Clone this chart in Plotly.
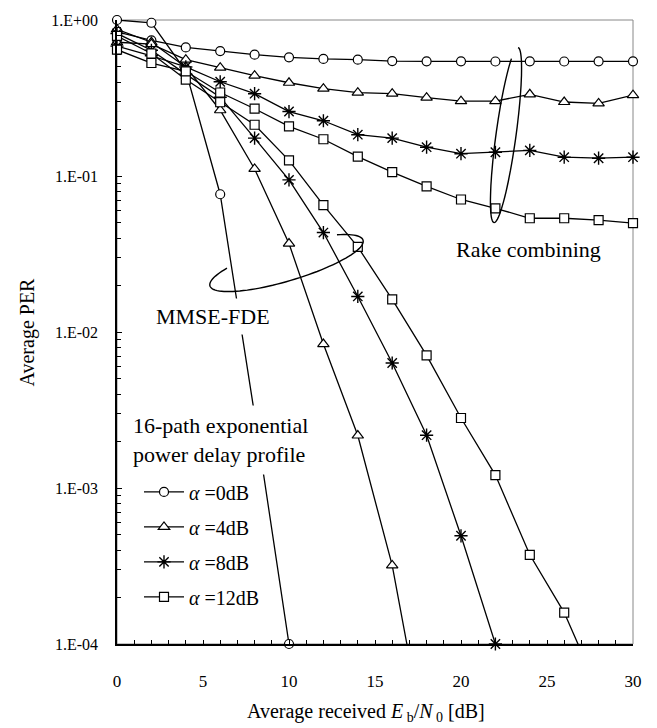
import numpy as np
import plotly.graph_objects as go

# ---------------- data ----------------
snr_rake = [0, 2, 4, 6, 8, 10, 12, 14, 16, 18, 20, 22, 24, 26, 28, 30]
rake_a0 = [0.84, 0.74, 0.667, 0.632, 0.599, 0.576, 0.563, 0.557, 0.545, 0.543, 0.543, 0.542, 0.543, 0.542, 0.543, 0.543]
rake_a4 = [0.72, 0.70, 0.557, 0.495, 0.440, 0.396, 0.363, 0.342, 0.337, 0.318, 0.302, 0.302, 0.334, 0.298, 0.292, 0.330]
rake_a8 = [0.68, 0.59, 0.50, 0.402, 0.337, 0.259, 0.226, 0.184, 0.175, 0.153, 0.139, 0.142, 0.146, 0.132, 0.130, 0.132]
rake_a12 = [0.645, 0.53, 0.469, 0.343, 0.270, 0.208, 0.172, 0.133, 0.106, 0.0859, 0.0707, 0.0621, 0.0536, 0.0536, 0.0522, 0.0499]

snr_mmse_a0 = [0, 2, 4, 6, 8, 10]
mmse_a0 = [1.0, 0.96, 0.47, 0.0764, 0.00295, 1.0e-4]
snr_mmse_a4 = [0, 2, 4, 6, 8, 10, 12, 14, 16, 18]
mmse_a4 = [0.87, 0.72, 0.50, 0.264, 0.111, 0.0369, 0.00837, 0.00217, 3.19e-4, 2.1e-5]
snr_mmse_a8 = [0, 2, 4, 6, 8, 10, 12, 14, 16, 18, 20, 22]
mmse_a8 = [0.82, 0.64, 0.45, 0.32, 0.175, 0.0945, 0.0434, 0.0169, 0.00633, 0.00218, 4.94e-4, 1.0e-4]
snr_mmse_a12 = [0, 2, 4, 6, 8, 10, 12, 14, 16, 18, 20, 22, 24, 26, 28]
mmse_a12 = [0.79, 0.61, 0.415, 0.297, 0.213, 0.126, 0.0651, 0.0351, 0.0162, 0.00708, 0.00281, 0.00121, 3.73e-4, 1.59e-4, 5.0e-5]

alpha_labels = ["0", "4", "8", "12"]
x_ticks = [0, 5, 10, 15, 20, 25, 30]
y_ticks = [1, 0.1, 0.01, 0.001, 0.0001]
y_ticktext = ["1.E+00", "1.E-01", "1.E-02", "1.E-03", "1.E-04"]

# ---------------- layout geometry ----------------
W, H = 657, 728
ML, MR, MT, MB = 117, 24, 15, 84
PW = W - ML - MR
PH = H - MT - MB
FONT = "Liberation Serif, Times New Roman, serif"


def pxx(x):
    return (x - ML) / PW


def pxy(y):
    return (H - MB - y) / PH


symbols = ["circle", "triangle-up", "asterisk-open", "square"]
msizes = [9, 10, 11, 9]

fig = go.Figure()

rake_sets = [rake_a0, rake_a4, rake_a8, rake_a12]
mmse_sets = [(snr_mmse_a0, mmse_a0), (snr_mmse_a4, mmse_a4),
             (snr_mmse_a8, mmse_a8), (snr_mmse_a12, mmse_a12)]

for i, a in enumerate(alpha_labels):
    open_sym = symbols[i].endswith("-open")
    mk = dict(symbol=symbols[i], size=msizes[i],
              color="black" if open_sym else "white",
              line=dict(color="black", width=1.4 if open_sym else 1.2))
    # MMSE-FDE curve
    xs, ys = mmse_sets[i]
    op = [1 if v >= 1e-4 else 0 for v in ys]
    mk2 = dict(mk)
    mk2["opacity"] = op
    fig.add_trace(go.Scatter(x=xs, y=ys, mode="lines+markers",
                             line=dict(color="black", width=1.3),
                             marker=mk2, cliponaxis=False, showlegend=False,
                             legendgroup="g" + a))
    # Rake curve
    fig.add_trace(go.Scatter(x=snr_rake, y=rake_sets[i], mode="lines+markers",
                             line=dict(color="black", width=1.3),
                             marker=mk, cliponaxis=False,
                             name="<i>α</i> =" + a + "dB",
                             legendgroup="g" + a, showlegend=True))


def ellipse_path(cx, cy, a, b, u, v, t0, t1, n=80):
    ts = np.radians(np.linspace(t0, t1, n))
    pts = []
    for t in ts:
        x = cx + a * np.cos(t) * u[0] + b * np.sin(t) * v[0]
        y = cy + a * np.cos(t) * u[1] + b * np.sin(t) * v[1]
        pts.append((pxx(x), pxy(y)))
    return "M " + " L ".join(f"{p[0]:.4f},{p[1]:.4f}" for p in pts)


shapes = [
    dict(type="rect", xref="paper", yref="paper", x0=0, x1=1, y0=0, y1=1,
         line=dict(color="#888888", width=1), layer="below"),
    dict(type="path", xref="paper", yref="paper",
         path=ellipse_path(506, 131, 89, 10, (0.135, -0.991), (0.991, 0.135), 0, 330),
         line=dict(color="black", width=1.4)),
    dict(type="path", xref="paper", yref="paper",
         path=ellipse_path(286.5, 260, 80, 18, (0.957, -0.288), (-0.288, -0.957), 137, 405),
         line=dict(color="black", width=1.4)),
]


def label(text, x, y, size=22, **kw):
    d = dict(text=text, x=pxx(x), y=pxy(y), xref="paper", yref="paper",
             xanchor="center", yanchor="middle", showarrow=False,
             font=dict(family=FONT, size=size, color="black"))
    d.update(kw)
    return d


annotations = [
    label("Rake combining", 528, 246),
    label("MMSE-FDE", 213, 314, bgcolor="white", borderpad=5),
    label("16-path exponential<br>power delay profile", 220, 438, align="left",
          bgcolor="white", borderpad=7),
    label("Average received <i>E</i><sub> b</sub>/<i>N</i><sub> 0</sub> [dB]", 366, 713, size=20),
    label("Average PER", 27, 330, size=20, textangle=-90),
]

fig.update_layout(
    width=W, height=H,
    margin=dict(l=ML, r=MR, t=MT, b=MB),
    paper_bgcolor="white", plot_bgcolor="white",
    font=dict(family=FONT, color="black"),
    shapes=shapes, annotations=annotations,
    legend=dict(x=pxx(139), y=pxy(471), xanchor="left", yanchor="top",
                bgcolor="rgba(0,0,0,0)", font=dict(family=FONT, size=20),
                tracegroupgap=6, itemwidth=40),
    xaxis=dict(range=[0, 30], tickvals=x_ticks, ticks="inside", ticklen=4,
               tickcolor="black", showline=True, linecolor="black", linewidth=1.5,
               showgrid=False, zeroline=False,
               tickfont=dict(family=FONT, size=17), ticklabelstandoff=21,
               minor=dict(dtick=1, ticks="inside", ticklen=4, tickcolor="black")),
    yaxis=dict(type="log", range=[-4, 0], tickvals=y_ticks, ticktext=y_ticktext,
               ticks="inside", ticklen=5, tickcolor="black",
               showline=True, linecolor="black", linewidth=1.5,
               showgrid=False, zeroline=False,
               tickfont=dict(family=FONT, size=16), ticklabelstandoff=14,
               minor=dict(ticks="inside", ticklen=4, tickcolor="black", dtick="D1")),
)

fig.write_html("out.html", config={"displayModeBar": False},
               post_script="document.body.style.margin='0px';")
